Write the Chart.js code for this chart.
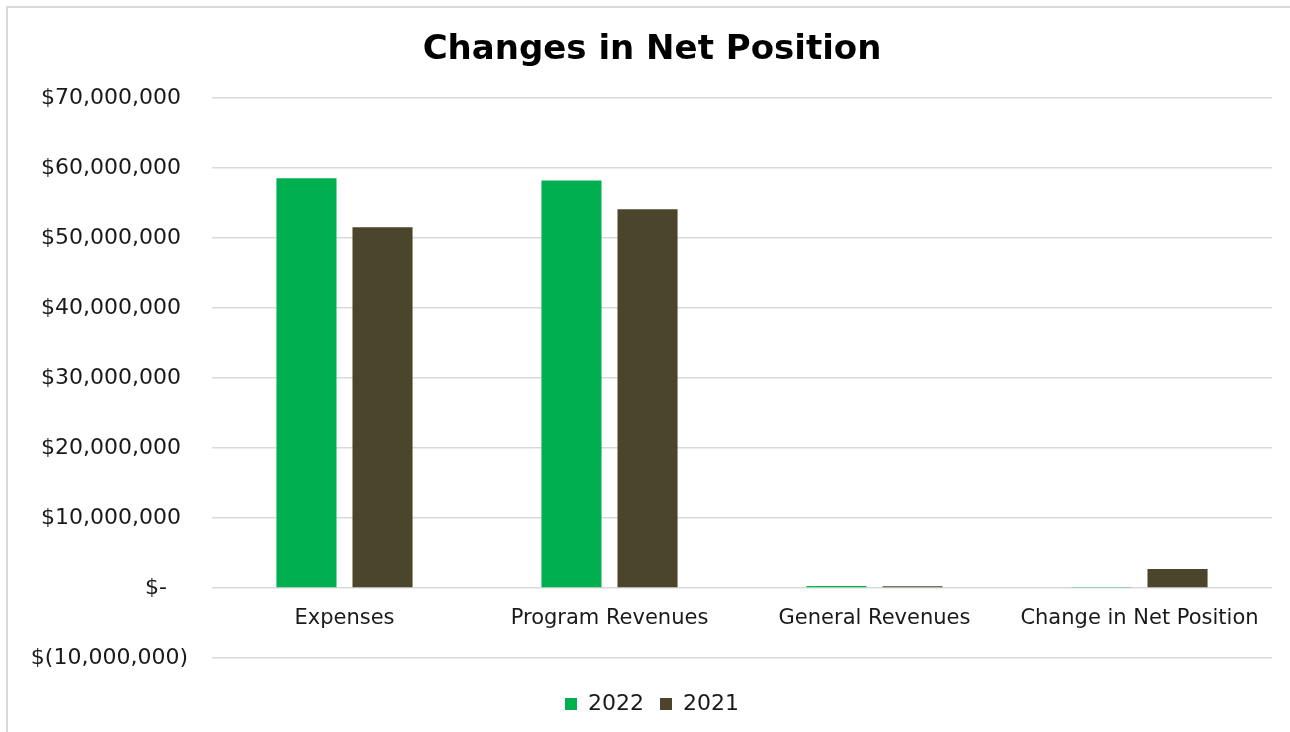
<!DOCTYPE html>
<html lang="en">
<head>
    <meta charset="UTF-8">
    <title>Changes in Net Position</title>
    <script src="https://cdn.jsdelivr.net/npm/chart.js"></script>
    <style>
        body {
            margin: 0;
            background: #fff;
            overflow: hidden;
        }
        .frame {
            position: absolute;
            left: 6px;
            top: 6px;
            width: 1400px;
            height: 800px;
            border-left: 2px solid #d9d9d9;
            border-top: 2px solid #d9d9d9;
        }
        #netChart {
            position: absolute;
            left: 0;
            top: 0;
        }
    </style>
</head>
<body>
    <div class="frame"></div>
    <canvas id="netChart" width="1290" height="732"></canvas>

    <script>
        const categories = ['Expenses', 'Program Revenues', 'General Revenues', 'Change in Net Position'];
        const values2022 = [58500000, 58200000, 280000, 50000];
        const values2021 = [51500000, 54100000, 250000, 2700000];
        const yMin = -10000000;
        const yMax = 70000000;
        const yStep = 10000000;

        const textColor = '#1a1a1a';
        const gridColor = '#d9d9d9';
        Chart.defaults.font.family = "'DejaVu Sans', Verdana, sans-serif";
        Chart.defaults.color = textColor;

        // accounting style: $1,000 / $- / $(1,000)
        function money(v) {
            if (v === 0) return '$-   ';
            const s = Math.abs(v).toLocaleString('en-US');
            return v < 0 ? '$(' + s + ')' : '$' + s + ' ';
        }

        const ctx = document.getElementById('netChart').getContext('2d');
        new Chart(ctx, {
            type: 'bar',
            data: {
                labels: categories,
                datasets: [{
                    label: '2022',
                    data: values2022,
                    backgroundColor: '#00b050',
                    categoryPercentage: 0.574,
                    barPercentage: 0.79
                }, {
                    label: '2021',
                    data: values2021,
                    backgroundColor: '#4b452c',
                    categoryPercentage: 0.574,
                    barPercentage: 0.79
                }]
            },
            options: {
                responsive: false,
                animation: false,
                layout: { padding: { left: 32, right: 18, top: 8, bottom: 7 } },
                plugins: {
                    title: {
                        display: true,
                        text: 'Changes in Net Position',
                        color: '#000',
                        font: { size: 34, weight: 'bold' },
                        padding: { top: 22, bottom: 27 }
                    },
                    legend: {
                        position: 'bottom',
                        title: { display: true, text: '', font: { size: 10 }, padding: { top: 3, bottom: 4 } },
                        labels: {
                            boxWidth: 12,
                            boxHeight: 12,
                            padding: 16,
                            color: textColor,
                            font: { size: 22 }
                        }
                    },
                    tooltip: { enabled: false }
                },
                scales: {
                    x: {
                        position: { y: 0 },
                        grid: { display: false },
                        border: { display: false },
                        ticks: { padding: 10, color: textColor, font: { size: 21 } }
                    },
                    y: {
                        min: yMin,
                        max: yMax,
                        // fixed label column so the plot starts at the same spot
                        afterFit: (scale) => { scale.width = 180; },
                        grid: { color: gridColor, lineWidth: 1.5, drawTicks: false },
                        border: { display: false },
                        ticks: {
                            stepSize: yStep,
                            padding: 24,
                            color: textColor,
                            font: { size: 22 },
                            callback: money
                        }
                    }
                }
            }
        });
    </script>
</body>
</html>
